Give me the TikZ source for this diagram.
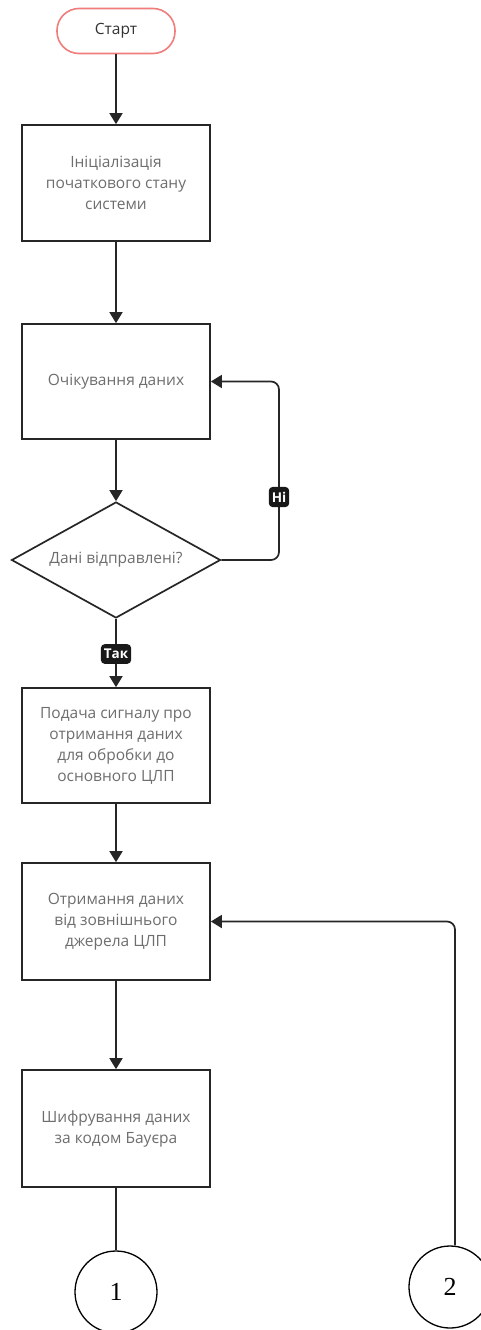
\documentclass[tikz,border=0pt]{standalone}
\usepackage{fontspec}
\setmainfont{Open Sans}
\newfontfamily\numfont{Liberation Serif}
\usetikzlibrary{shapes.geometric,arrows.meta,positioning}
\definecolor{txtgray}{HTML}{6E6E6E}
\definecolor{startred}{HTML}{F07C7C}
\tikzset{
  procbox/.style={draw=black!85, line width=1.7pt, minimum width=188pt, minimum height=116pt, align=center, text=txtgray, font=\fontsize{15.5}{21}\selectfont, inner sep=0pt},
  startnode/.style={draw=startred, line width=1.6pt, rounded corners=22pt, minimum width=118pt, minimum height=45pt, text=black!80, font=\fontsize{15.5}{18}\selectfont},
  decision/.style={draw=black!85, line width=1.7pt, diamond, aspect=1.8, minimum width=209pt, minimum height=116pt, inner sep=0pt, text=txtgray, font=\fontsize{15.5}{18}\selectfont},
  conn/.style={draw=black, line width=1.3pt, circle, minimum size=82pt, inner sep=0pt, font=\numfont\fontsize{26}{28}\selectfont},
  flow/.style={draw=black!85, line width=1.7pt, -{Triangle[width=13pt,length=11pt]}},
  plain/.style={draw=black!85, line width=1.7pt},
  tag/.style={fill=black!90, text=white, rounded corners=4pt, inner xsep=3pt, inner ysep=5pt, font=\bfseries\fontsize{13.5}{14}\selectfont}
}
\begin{document}
\begin{tikzpicture}[x=1pt,y=-1pt]
\useasboundingbox (0,0) rectangle (481,1330);
\fill[white] (0,0) rectangle (481,1330);

\node[startnode] (start) at (116,31) {Старт};
\node[procbox] (init) at (116,183) {Ініціалізація\\початкового стану\\системи};
\node[procbox, minimum height=115pt] (wait) at (116,381.5) {Очікування даних};
\node[decision] (dec) at (116,560) {Дані відправлені?};
\node[procbox, minimum height=115pt] (signal) at (116,745.5) {Подача сигналу про\\отримання даних\\для обробки до\\основного ЦЛП};
\node[procbox, minimum height=117pt] (recv) at (116,921.5) {Отримання даних\\від зовнішнього\\джерела ЦЛП};
\node[procbox, minimum height=117pt] (enc) at (116,1128.5) {Шифрування даних\\за кодом Бауєра};
\node[conn] (c1) at (116,1292) {1};
\node[conn] (c2) at (450,1287) {2};

\coordinate (noA) at (279,560);
\coordinate (noB) at (279,381.5);
\coordinate (r2) at (455,921.5);

\draw[flow] (start) -- (init);
\draw[flow] (init) -- (wait);
\draw[flow] (wait) -- (dec);
\draw[flow, rounded corners=8pt] (dec.east) -- (noA) -- (noB) -- (wait.east);
\node[tag] (no) at (279,497) {Ні};
\draw[flow] (dec.south) -- (signal.north);
\node[tag] (yes) at (116,654) {Так};
\draw[flow] (signal) -- (recv);
\draw[flow] (recv) -- (enc);
\draw[plain] (enc.south) -- (c1.north);
\draw[flow, rounded corners=8pt] (c2.north -| r2) -- (r2) -- (recv.east);
\end{tikzpicture}
\end{document}
